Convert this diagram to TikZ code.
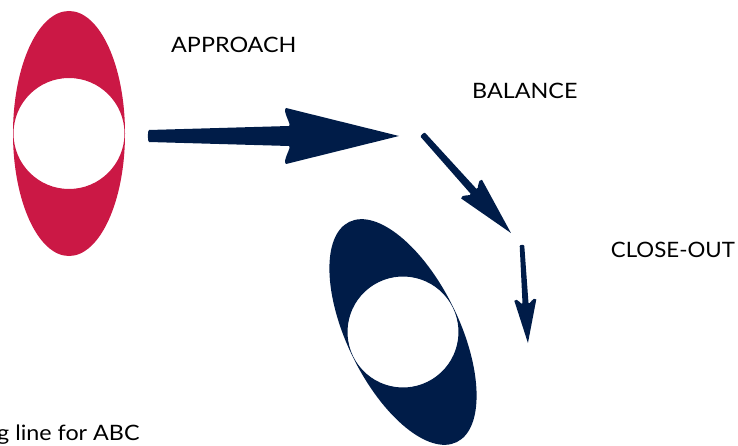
\documentclass[tikz,border=0pt]{standalone}
\usepackage{fontspec}
\setmainfont{Lato}
\definecolor{crimson}{RGB}{203,24,69}
\definecolor{navy}{RGB}{0,28,72}
\newcommand\fatarrow[5]{% length, w0, w1, head length, head half-width
  \fill[navy] (0,{-#2}) -- ({#1-#4+3},{-#3})
    .. controls ({#1-#4+6},{-#3-1}) and ({#1-#4-4},{-#5+3}) .. ({#1-#4},{-#5})
    -- (#1,0) -- ({#1-#4},{#5})
    .. controls ({#1-#4-4},{#5-3}) and ({#1-#4+6},{#3+1}) .. ({#1-#4+3},{#3})
    -- (0,{#2}) .. controls (-1.5,{#2}) and (-1.5,{-#2}) .. (0,{-#2}) -- cycle;}
\newcommand\wide[1]{\scalebox{1.1}[1]{#1}}
\tikzset{lbl/.style={anchor=base west, inner sep=0pt, font=\fontsize{21.2}{24}\selectfont, text=black}}
\begin{document}
\begin{tikzpicture}[x=1pt,y=-1pt]
\useasboundingbox (0,0) rectangle (738,446);
\clip (0,0) rectangle (738,446);
% red ellipse with hole
\coordinate (rc) at (69,133.5);
\fill[crimson, even odd rule] (rc) ellipse [x radius=56pt, y radius=122.5pt] (rc) circle [radius=55.5pt];
% navy tilted ellipse with hole
\coordinate (nc) at (403,332);
\fill[navy, even odd rule, rotate around={26:(nc)}] (nc) ellipse [x radius=56pt, y radius=122.5pt] (nc) circle [radius=55.5pt];
% arrows
\coordinate (a1) at (149,136);
\coordinate (a2) at (423,135);
\coordinate (a3) at (522,246);
\begin{scope}[shift={(a1)}, rotate=0]
  \fatarrow{250}{6}{10}{113}{28}
\end{scope}
\begin{scope}[shift={(a2)}, rotate=-48.1]
  \fatarrow{131.7}{3}{3.8}{59}{14}
\end{scope}
\begin{scope}[shift={(a3)}, rotate=-86.5]
  \fatarrow{97.2}{2.3}{3}{43}{11}
\end{scope}
% labels
\node[lbl] (approach) at (171,53) {\wide{APPROACH}};
\node[lbl] (balance) at (472,99) {\wide{BALANCE}};
\node[lbl, anchor=base east] (closeout) at (735,258) {\scalebox{1.05}[1]{CLOSE-OUT}};
\node[lbl] (foot) at (-3,440) {\wide{g line for ABC}};
\end{tikzpicture}
\end{document}
